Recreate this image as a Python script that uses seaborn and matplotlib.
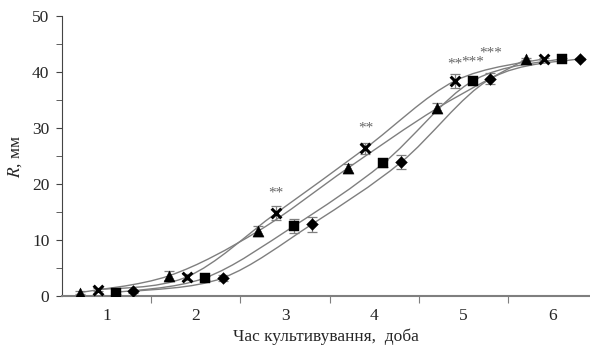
import numpy as np
import pandas as pd
import matplotlib
matplotlib.use("Agg")
import matplotlib.pyplot as plt
import seaborn as sns
from matplotlib.path import Path
from matplotlib.patches import PathPatch

# Days of cultivation (category positions on the x axis)
days = [1, 2, 3, 4, 5, 6]

# Mean colony radius R, mm, per series
triangle_vals = [0.6, 3.6, 11.6, 22.8, 33.5, 42.3]
cross_vals = [1.1, 3.4, 14.8, 26.4, 38.4, 42.4]
square_vals = [0.6, 3.2, 12.5, 23.7, 38.4, 42.4]
diamond_vals = [0.8, 3.2, 12.8, 23.9, 38.8, 42.4]

# Error bar half-widths
triangle_err = [0.3, 0.8, 0.9, 0.8, 0.9, 0.2]
cross_err = [0.3, 0.6, 1.2, 1.0, 1.3, 0.2]
square_err = [0.2, 0.3, 1.3, 0.6, 0.6, 0.2]
diamond_err = [0.2, 0.6, 1.3, 1.2, 1.0, 0.2]

# Significance marks: (series, day index, text, value)
stars = [("cross", 2, "**", 18.4), ("cross", 3, "**", 30.0),
         ("cross", 4, "**", 41.4), ("square", 4, "***", 41.8),
         ("diamond", 4, "***", 43.4)]

# name: values, errors, marker, x offset inside the day, marker size
series = {
    "triangle": (triangle_vals, triangle_err, "^", -0.3, 8),
    "cross": (cross_vals, cross_err, "x", -0.1, 7),
    "square": (square_vals, square_err, "s", 0.1, 7.5),
    "diamond": (diamond_vals, diamond_err, "D", 0.3, 6),
}

sns.set_style("ticks")
plt.rcParams["font.family"] = ["Liberation Serif", "DejaVu Serif"]
plt.rcParams["mathtext.fontset"] = "stix"

fig, ax = plt.subplots(figsize=(5.9, 3.51), dpi=100)
fig.subplots_adjust(left=0.105, right=1.0, bottom=0.157, top=0.954)

grey = "#7f7f7f"


def smooth_path(xs, ys):
    # Excel-like smoothed line: cubic Bezier segments through every point
    pts = np.column_stack([xs, ys])
    verts = [pts[0]]
    codes = [Path.MOVETO]
    n = len(pts)
    for i in range(n - 1):
        p0 = pts[max(i - 1, 0)]
        p1 = pts[i]
        p2 = pts[i + 1]
        p3 = pts[min(i + 2, n - 1)]
        c1 = p1 + (p2 - p0) / 6.0
        c2 = p2 - (p3 - p1) / 6.0
        verts += [c1, c2, p2]
        codes += [Path.CURVE4] * 3
    return Path(verts, codes)


for name, (vals, errs, marker, off, ms) in series.items():
    xs = np.array(days) + off
    ax.add_patch(PathPatch(smooth_path(xs, vals), facecolor="none",
                           edgecolor=grey, lw=1.0, zorder=1))
    ax.errorbar(xs, vals, yerr=errs, fmt="none", ecolor=grey, elinewidth=0.9,
                capsize=3.5, capthick=0.9, zorder=2)
    df = pd.DataFrame({"x": xs, "R": vals})
    if marker == "x":
        sns.scatterplot(data=df, x="x", y="R", marker="x", s=ms ** 2,
                        color="black", linewidth=2.2, ax=ax, zorder=3)
    else:
        sns.scatterplot(data=df, x="x", y="R", marker=marker, s=ms ** 2,
                        color="black", edgecolor="black", linewidth=0.3,
                        ax=ax, zorder=3)

for name, idx, txt, yv in stars:
    xs = days[idx] + series[name][3]
    ax.text(xs, yv, txt, ha="center", va="center", fontsize=11,
            color="#666666")

ax.set_xlim(0.5, 6.416)
ax.set_ylim(0, 50)
ax.set_xticks([1.5, 2.5, 3.5, 4.5, 5.5])
ax.set_xticklabels([])
ax.set_xticks(days, minor=True)
ax.set_xticklabels([str(d) for d in days], minor=True, fontsize=12.5)
ax.tick_params(axis="x", which="minor", length=0, pad=9)
ax.tick_params(axis="x", which="major", length=5, color=grey, direction="out")
ax.set_yticks(range(0, 51, 10))
ax.set_yticks(range(5, 50, 10), minor=True)
ax.tick_params(axis="y", which="both", length=4, color="#444444",
               labelsize=12.5, pad=5)

for side in ["top", "right"]:
    ax.spines[side].set_visible(False)
ax.spines["bottom"].set_color(grey)
ax.spines["bottom"].set_linewidth(1.5)
ax.spines["left"].set_color("#444444")

ax.set_xlabel("Час культивування,  доба", fontsize=12.5, labelpad=3)
ax.set_ylabel("$R$, мм", fontsize=12.5, labelpad=6)

fig.savefig("out.png", dpi=100)
